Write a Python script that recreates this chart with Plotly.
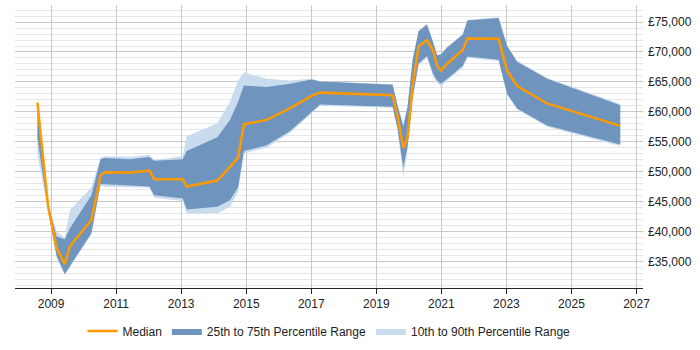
import plotly.graph_objects as go

years = [2008.58, 2008.91, 2009.17, 2009.42, 2009.58, 2010.24, 2010.52, 2010.65, 2011.42, 2012.02,
         2012.17, 2013.05, 2013.17, 2014.11, 2014.50, 2014.75, 2014.93, 2015.63, 2016.35, 2017.01,
         2017.27, 2019.50, 2019.65, 2019.83, 2019.96, 2020.12, 2020.30, 2020.56, 2020.75, 2020.87,
         2020.99, 2021.17, 2021.66, 2021.80, 2022.76, 2023.02, 2023.33, 2024.25, 2026.50]

median = [61560, 44130, 37270, 34540, 37550, 41940, 49340, 49890, 49880, 50170,
          48740, 48740, 47530, 48520, 50820, 52350, 57940, 58650, 60620, 62660,
          63210, 62760, 59300, 54000, 55640, 64600, 70900, 71980, 70160, 67700,
          66880, 68000, 70330, 72250, 72200, 66880, 64310, 61400, 57660]

p25 = [55600, 43500, 35900, 32900, 34260, 39740, 47960, 47900, 47700, 47530,
       46050, 45510, 43680, 44130, 45230, 47420, 53450, 54400, 56800, 60030,
       61230, 60860, 57300, 50710, 54200, 62500, 68100, 69350, 66330, 65200,
       64690, 65500, 67700, 69240, 68690, 63040, 60570, 57730, 54540]

p75 = [61700, 44500, 39190, 38700, 40560, 46050, 52080, 52300, 52080, 52470,
       51810, 52080, 53450, 55760, 58650, 61680, 64410, 64140, 64690, 65400,
       65070, 64520, 61100, 57500, 60800, 68800, 73460, 74560, 71550, 69400,
       69620, 70720, 72910, 75260, 75660, 71000, 68360, 65510, 61120]

p10 = [52900, 43000, 35600, 32700, 34000, 39500, 47700, 47500, 47400, 47300,
       45660, 45110, 43030, 43030, 44130, 46600, 53100, 54000, 56500, 59800,
       61000, 60700, 57000, 49060, 53500, 62000, 67800, 69000, 65800, 64800,
       64300, 65200, 67400, 69000, 68500, 62800, 60400, 57500, 54300]

p90 = [62000, 45000, 40020, 39000, 43590, 47420, 52350, 52600, 52500, 52800,
       51920, 52630, 55920, 58110, 61680, 65230, 66610, 65510, 65230, 65510,
       65100, 64600, 61300, 58110, 61000, 69000, 73600, 74700, 71700, 69500,
       69700, 70800, 73000, 75400, 75800, 71100, 68500, 65700, 61300]

LIGHT = "#C9DCEE"
DARK = "#6F94BE"
ORANGE = "#FF9900"
FONT = "Liberation Sans, Arial, sans-serif"

fig = go.Figure()
fig.add_trace(go.Scatter(x=years, y=p90, mode="lines", line=dict(width=0, color=LIGHT),
                         showlegend=False, hoverinfo="skip"))
fig.add_trace(go.Scatter(x=years, y=p10, mode="lines", line=dict(width=0, color=LIGHT),
                         fill="tonexty", fillcolor=LIGHT, name="10th to 90th Percentile Range",
                         legendrank=3))
fig.add_trace(go.Scatter(x=years, y=p75, mode="lines", line=dict(width=0, color=DARK),
                         showlegend=False, hoverinfo="skip"))
fig.add_trace(go.Scatter(x=years, y=p25, mode="lines", line=dict(width=0, color=DARK),
                         fill="tonexty", fillcolor=DARK, name="25th to 75th Percentile Range",
                         legendrank=2))
fig.add_trace(go.Scatter(x=years, y=median, mode="lines", line=dict(width=2.5, color=ORANGE),
                         name="Median", legendrank=1))

fig.update_layout(
    width=700, height=350,
    margin=dict(l=15, r=57, t=5, b=58),
    paper_bgcolor="white", plot_bgcolor="white",
    font=dict(family=FONT, size=12, color="#222"),
    legend=dict(orientation="h", x=0.5, xanchor="center", y=-0.152, yanchor="middle",
                font=dict(family=FONT, size=12, color="#222"), traceorder="normal"),
    xaxis=dict(range=[2007.89, 2027.2], tickmode="linear", tick0=2009, dtick=2,
               showgrid=True, gridcolor="#C8C8C8", gridwidth=1,
               showline=True, linecolor="#222", linewidth=1,
               ticks="outside", ticklen=5, tickcolor="#222", zeroline=False),
    yaxis=dict(range=[30570, 77850], side="right", tickmode="linear", tick0=0, dtick=5000,
               tickprefix="£", tickformat=",d",
               showgrid=True, gridcolor="#C8C8C8", gridwidth=1,
               minor=dict(tickmode="linear", tick0=0, dtick=1000, showgrid=True,
                          gridcolor="#E6E6E6", gridwidth=1),
               showline=False, ticks="", zeroline=False, ticklabelstandoff=4),
)

fig.write_html("out.html")
